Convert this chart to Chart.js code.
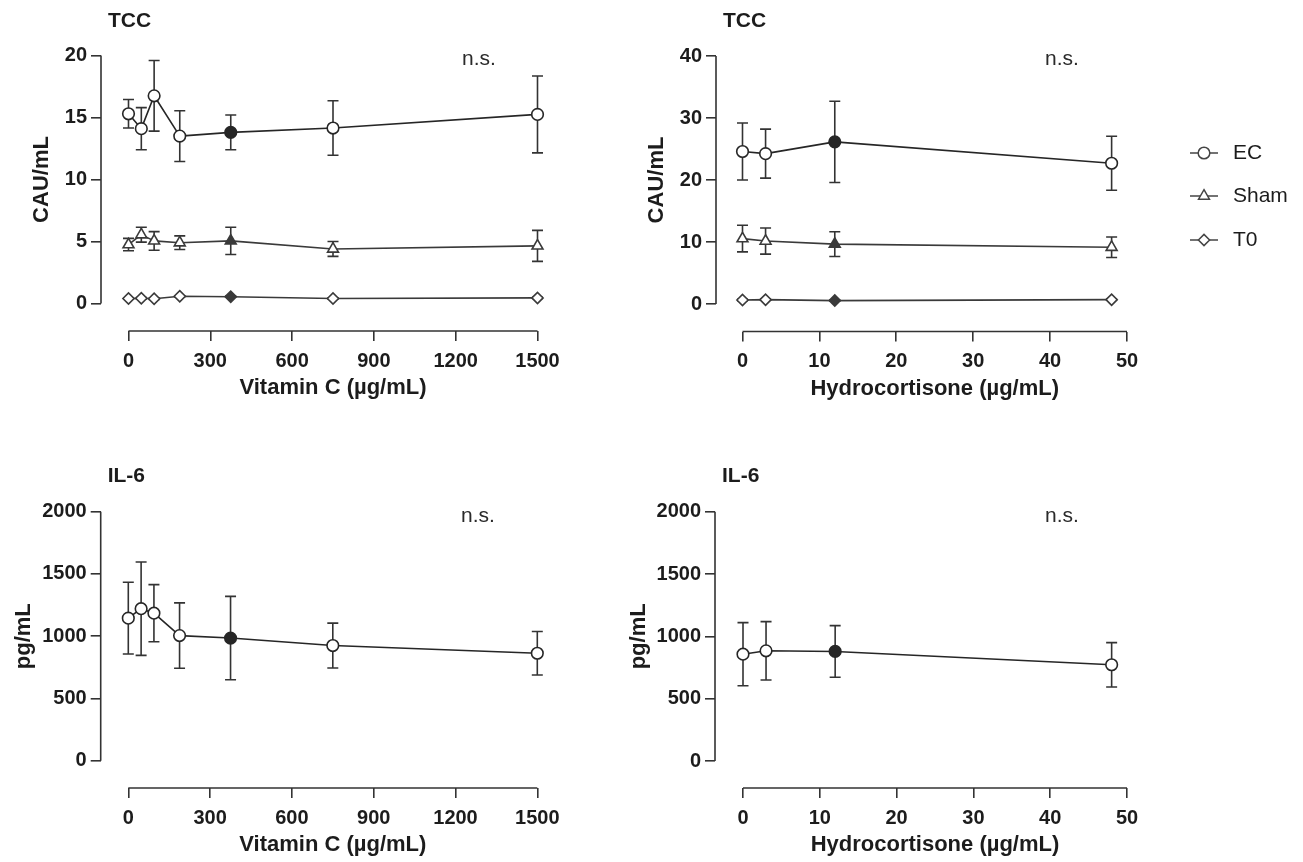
<!DOCTYPE html>
<html><head><meta charset="utf-8">
<script src="https://cdn.jsdelivr.net/npm/chart.js@4.4.0/dist/chart.umd.min.js"></script>
<style>
html,body{margin:0;padding:0;background:#fff;width:1303px;height:862px;overflow:hidden;}
canvas{position:absolute;}
</style></head><body>
<canvas id="c1" width="620" height="431" style="left:0;top:0"></canvas>
<canvas id="c2" width="683" height="431" style="left:620px;top:0"></canvas>
<canvas id="c3" width="620" height="431" style="left:0;top:431px"></canvas>
<canvas id="c4" width="683" height="431" style="left:620px;top:431px"></canvas>
<script>
// ---- data ----
const vitC = [0, 47, 94, 188, 375, 750, 1500];
const hydro = [0, 3, 12, 48];
const vitCTicks = [0, 300, 600, 900, 1200, 1500];
const hydroTicks = [0, 10, 20, 30, 40, 50];
const tccVitCTicks = [0, 5, 10, 15, 20];
const tccHydroTicks = [0, 10, 20, 30, 40];
const il6Ticks = [0, 500, 1000, 1500, 2000];
const vitCHighlight = 375;
const hydroHighlight = 12;

const tccVitC_EC = [15.3, 14.1, 16.75, 13.5, 13.8, 14.15, 15.25];
const tccVitC_EC_sd = [1.15, 1.7, 2.85, 2.05, 1.4, 2.2, 3.1];
const tccVitC_Sham = [4.75, 5.55, 5.05, 4.9, 5.05, 4.4, 4.65];
const tccVitC_Sham_sd = [0.5, 0.6, 0.75, 0.55, 1.1, 0.6, 1.25];
const tccVitC_T0 = [0.4, 0.42, 0.38, 0.58, 0.55, 0.4, 0.45];
const tccVitC_T0_sd = [0.05, 0.05, 0.05, 0.05, 0.05, 0.05, 0.05];

const tccHydro_EC = [24.6, 24.25, 26.15, 22.7];
const tccHydro_EC_sd = [4.6, 3.95, 6.55, 4.35];
const tccHydro_Sham = [10.55, 10.15, 9.65, 9.15];
const tccHydro_Sham_sd = [2.15, 2.1, 2.0, 1.65];
const tccHydro_T0 = [0.65, 0.7, 0.55, 0.7];
const tccHydro_T0_sd = [0.1, 0.1, 0.1, 0.1];

const il6VitC_EC = [1145, 1221, 1185, 1005, 985, 925, 863];
const il6VitC_EC_sd = [288, 375, 229, 263, 335, 180, 175];
const il6Hydro_EC = [857, 884, 879, 772];
const il6Hydro_EC_sd = [253, 234, 207, 178];

const legendLabels = ['EC', 'Sham', 'T0'];

// ---- styling ----
const FONT = "'Liberation Sans', Arial, Helvetica, sans-serif";
const INK = '#1c1c1c';
const SER = {
  EC:   {style: 'circle',  radius: 5.8, line: '#262626'},
  Sham: {style: 'triangle', radius: 6.3, line: '#3a3a3a'},
  T0:   {style: 'rectRot', radius: 5.6, line: '#3a3a3a'}
};

function pts(xs, ys) { return xs.map((x, i) => ({x: x, y: ys[i]})); }

function mkDataset(name, xs, ys, sd, hi) {
  const s = SER[name];
  return {
    label: name,
    data: pts(xs, ys),
    errors: sd,
    borderColor: s.line,
    borderWidth: 1.6,
    pointStyle: s.style,
    pointRadius: s.radius,
    pointHoverRadius: s.radius,
    pointBorderWidth: 1.6,
    pointBorderColor: s.line,
    pointBackgroundColor: xs.map(x => x === hi ? s.line : '#ffffff'),
    tension: 0,
    clip: false,
    fill: false
  };
}

const errorBars = {
  id: 'errorBars',
  beforeDatasetsDraw(chart) {
    const {ctx, scales: {x, y}} = chart;
    ctx.save();
    chart.data.datasets.forEach(ds => {
      if (!ds.errors) return;
      ctx.strokeStyle = '#333';
      ctx.lineWidth = 1.6;
      ds.data.forEach((p, i) => {
        const e = ds.errors[i];
        const px = x.getPixelForValue(p.x);
        const yt = y.getPixelForValue(p.y + e);
        const yb = y.getPixelForValue(p.y - e);
        ctx.beginPath();
        ctx.moveTo(px, yt); ctx.lineTo(px, yb);
        ctx.moveTo(px - 5.5, yt); ctx.lineTo(px + 5.5, yt);
        ctx.moveTo(px - 5.5, yb); ctx.lineTo(px + 5.5, yb);
        ctx.stroke();
      });
    });
    ctx.restore();
  }
};

const decor = {
  id: 'decor',
  afterDraw(chart) {
    const o = chart.options.plugins.decor;
    const {ctx, scales: {x, y}, chartArea: a} = chart;
    const xt = o.xTicks, yt = o.yTicks;
    ctx.save();
    // axis lines
    ctx.strokeStyle = '#333';
    ctx.lineWidth = 1.6;
    ctx.beginPath();
    ctx.moveTo(a.left, y.getPixelForValue(yt[0]));
    ctx.lineTo(a.left, y.getPixelForValue(yt[yt.length - 1]));
    ctx.moveTo(x.getPixelForValue(xt[0]), a.bottom);
    ctx.lineTo(x.getPixelForValue(xt[xt.length - 1]), a.bottom);
    ctx.stroke();
    // x title
    ctx.fillStyle = INK;
    ctx.font = "bold 22px " + FONT;
    ctx.textAlign = 'center';
    ctx.textBaseline = 'middle';
    const xc = (x.getPixelForValue(xt[0]) + x.getPixelForValue(xt[xt.length - 1])) / 2;
    ctx.fillText(o.xTitle, xc, a.bottom + o.xTitleGap);
    // y title
    const yc = (y.getPixelForValue(yt[0]) + y.getPixelForValue(yt[yt.length - 1])) / 2;
    ctx.save();
    ctx.translate(o.yTitleX, yc);
    ctx.rotate(-Math.PI / 2);
    ctx.fillText(o.yTitle, 0, 0);
    ctx.restore();
    // panel title
    ctx.textAlign = 'left';
    ctx.font = "bold 21px " + FONT;
    ctx.fillText(o.title, a.left + o.titleDx, o.titleY);
    // n.s.
    ctx.textAlign = 'center';
    ctx.font = "21px " + FONT;
    ctx.fillStyle = '#2a2a2a';
    ctx.fillText('n.s.', o.nsX, o.nsY);
    // legend
    if (o.legend) {
      const L = o.legend;
      legendLabels.forEach((lab, i) => {
        const s = SER[lab];
        const ly = L.y[i];
        ctx.strokeStyle = '#444';
        ctx.lineWidth = 1.5;
        ctx.beginPath();
        ctx.moveTo(L.x0, ly); ctx.lineTo(L.x1, ly);
        ctx.stroke();
        ctx.fillStyle = '#ffffff';
        ctx.strokeStyle = '#444';
        Chart.helpers.drawPoint(ctx, {pointStyle: s.style, radius: s.radius, borderWidth: 1.5, rotation: 0}, (L.x0 + L.x1) / 2, ly);
      });
      legendLabels.forEach((lab, i) => {
        ctx.fillStyle = INK;
        ctx.font = "21px " + FONT;
        ctx.textAlign = 'left';
        ctx.textBaseline = 'middle';
        ctx.fillText(lab, L.tx, L.y[i]);
      });
    }
    ctx.restore();
  }
};

function makePanel(id, canvasW, canvasH, spec) {
  const A = spec.area;
  const xmax = spec.xTicks[spec.xTicks.length - 1];
  const ymax = spec.yTicks[spec.yTicks.length - 1];
  const xmin = -(A.xZero - A.left) / ((A.right - A.xZero) / xmax);
  const ymin = -(A.bottom - A.yZero) / ((A.yZero - A.top) / ymax);
  const tickFont = {family: FONT, size: 20, weight: 'bold'};
  return new Chart(document.getElementById(id), {
    type: 'line',
    data: {datasets: spec.datasets},
    options: {
      responsive: false,
      animation: false,
      devicePixelRatio: 1,
      layout: {padding: {left: 0, top: A.top, right: canvasW - A.right, bottom: 0}},
      plugins: {
        legend: {display: false},
        tooltip: {enabled: false},
        decor: spec.decor
      },
      elements: {line: {borderJoinStyle: 'round'}},
      scales: {
        x: {
          type: 'linear', min: xmin, max: xmax,
          afterBuildTicks: s => { s.ticks = spec.xTicks.map(v => ({value: v})); },
          afterFit: s => { s.height = canvasH - A.bottom; },
          grid: {display: true, drawOnChartArea: false, drawTicks: true, tickLength: 10, color: '#333', lineWidth: 1.6},
          border: {display: false},
          ticks: {autoSkip: false, maxRotation: 0, padding: 8, color: INK, font: tickFont, callback: v => String(v)}
        },
        y: {
          type: 'linear', min: ymin, max: ymax,
          afterBuildTicks: s => { s.ticks = spec.yTicks.map(v => ({value: v})); },
          afterFit: s => { s.width = A.left; },
          grid: {display: true, drawOnChartArea: false, drawTicks: true, tickLength: 10, color: '#333', lineWidth: 1.6},
          border: {display: false},
          ticks: {padding: 4, color: INK, font: tickFont, callback: v => String(v)}
        }
      }
    },
    plugins: [errorBars, decor]
  });
}

// Top-left: TCC vs Vitamin C
makePanel('c1', 620, 431, {
  area: {left: 101, right: 537.5, top: 55.5, bottom: 331, xZero: 128.5, yZero: 303.5},
  xTicks: vitCTicks, yTicks: tccVitCTicks,
  datasets: [
    mkDataset('EC', vitC, tccVitC_EC, tccVitC_EC_sd, vitCHighlight),
    mkDataset('Sham', vitC, tccVitC_Sham, tccVitC_Sham_sd, vitCHighlight),
    mkDataset('T0', vitC, tccVitC_T0, tccVitC_T0_sd, vitCHighlight)
  ],
  decor: {xTicks: vitCTicks, yTicks: tccVitCTicks, xTitle: 'Vitamin C (µg/mL)', xTitleGap: 57,
          yTitle: 'CAU/mL', yTitleX: 42, title: 'TCC', titleDx: 7, titleY: 21, nsX: 479, nsY: 59}
});

// Top-right: TCC vs Hydrocortisone
makePanel('c2', 683, 431, {
  area: {left: 96, right: 507, top: 56, bottom: 331.5, xZero: 122.5, yZero: 304},
  xTicks: hydroTicks, yTicks: tccHydroTicks,
  datasets: [
    mkDataset('EC', hydro, tccHydro_EC, tccHydro_EC_sd, hydroHighlight),
    mkDataset('Sham', hydro, tccHydro_Sham, tccHydro_Sham_sd, hydroHighlight),
    mkDataset('T0', hydro, tccHydro_T0, tccHydro_T0_sd, hydroHighlight)
  ],
  decor: {xTicks: hydroTicks, yTicks: tccHydroTicks, xTitle: 'Hydrocortisone (µg/mL)', xTitleGap: 57,
          yTitle: 'CAU/mL', yTitleX: 37, title: 'TCC', titleDx: 7, titleY: 21, nsX: 442, nsY: 59,
          legend: {x0: 570, x1: 598, tx: 613, y: [153, 196, 240]}}
});

// Bottom-left: IL-6 vs Vitamin C
makePanel('c3', 620, 431, {
  area: {left: 100.7, right: 537.3, top: 80.7, bottom: 357, xZero: 128.3, yZero: 329.7},
  xTicks: vitCTicks, yTicks: il6Ticks,
  datasets: [ mkDataset('EC', vitC, il6VitC_EC, il6VitC_EC_sd, vitCHighlight) ],
  decor: {xTicks: vitCTicks, yTicks: il6Ticks, xTitle: 'Vitamin C (µg/mL)', xTitleGap: 57,
          yTitle: 'pg/mL', yTitleX: 24, title: 'IL-6', titleDx: 7, titleY: 45, nsX: 478, nsY: 85}
});

// Bottom-right: IL-6 vs Hydrocortisone
makePanel('c4', 683, 431, {
  area: {left: 95, right: 507, top: 80.7, bottom: 357, xZero: 123, yZero: 330},
  xTicks: hydroTicks, yTicks: il6Ticks,
  datasets: [ mkDataset('EC', hydro, il6Hydro_EC, il6Hydro_EC_sd, hydroHighlight) ],
  decor: {xTicks: hydroTicks, yTicks: il6Ticks, xTitle: 'Hydrocortisone (µg/mL)', xTitleGap: 57,
          yTitle: 'pg/mL', yTitleX: 19, title: 'IL-6', titleDx: 7, titleY: 45, nsX: 442, nsY: 85}
});
</script>
</body></html>
